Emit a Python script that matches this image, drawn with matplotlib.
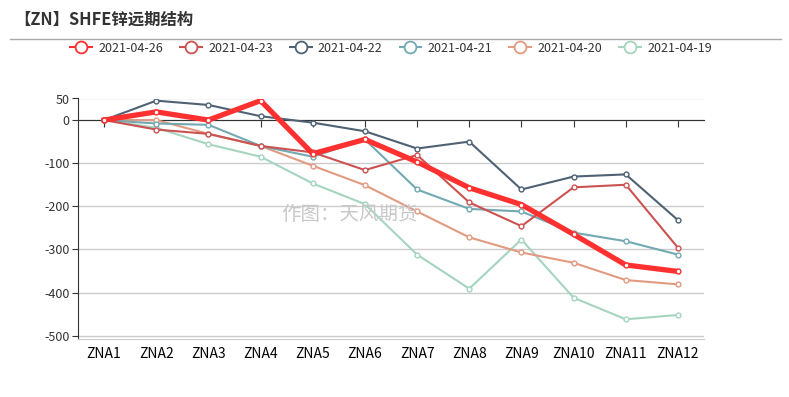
import matplotlib.pyplot as plt
from matplotlib.lines import Line2D

plt.rcParams['font.family'] = ['Microsoft YaHei', 'Noto Sans CJK SC', 'DejaVu Sans']

# contracts and spreads
contracts = ['ZNA1', 'ZNA2', 'ZNA3', 'ZNA4', 'ZNA5', 'ZNA6',
             'ZNA7', 'ZNA8', 'ZNA9', 'ZNA10', 'ZNA11', 'ZNA12']
dates = ['2021-04-26', '2021-04-23', '2021-04-22', '2021-04-21', '2021-04-20', '2021-04-19']
s0426 = [0, 19, 0, 45, -78, -45, -97, -157, -196, -265, -336, -351]
s0423 = [0, -22, -32, -60, -75, -116, -81, -191, -246, -156, -150, -296]
s0422 = [0, 45, 35, 9, -6, -26, -66, -50, -161, -131, -126, -232]
s0421 = [0, -8, -11, -60, -85, -45, -161, -206, -212, -261, -281, -312]
s0420 = [0, 0, -32, -60, -106, -151, -212, -272, -307, -331, -371, -381]
s0419 = [0, -18, -56, -85, -147, -195, -312, -391, -277, -412, -462, -452]
series = [s0426, s0423, s0422, s0421, s0420, s0419]
colors = ['#ff3030', '#cc5252', '#4f6273', '#72a9b2', '#e29a80', '#a5d4bf']
widths = [3.8, 1.5, 1.5, 1.5, 1.5, 1.5]
yticks = [50, 0, -100, -200, -300, -400, -500]

fig = plt.figure(figsize=(7.89, 3.97), dpi=100)
ax = fig.add_axes([78 / 789, 58.3 / 397, 626 / 789, 240.2 / 397])

x = list(range(len(contracts)))
for i in reversed(range(len(series))):
    ax.plot(x, series[i], color=colors[i], lw=widths[i], marker='o', ms=3.5,
            mfc='white', mec=colors[i], mew=1, zorder=3 + (len(series) - i))

ax.set_xlim(-0.5, len(contracts) - 0.5)
ax.set_ylim(-507, 50)
ax.set_xticks(x)
ax.set_xticklabels(contracts, fontsize=9, color='#333333')
ax.set_yticks(yticks)
ax.set_yticklabels([str(v) for v in yticks], fontsize=9, color='#333333')
ax.grid(axis='y', color='#cccccc', lw=1)
ax.set_axisbelow(True)

ax.spines['right'].set_visible(False)
ax.spines['top'].set_position(('data', 0))
ax.spines['top'].set_color('#333333')
ax.spines['left'].set_color('#333333')
ax.spines['bottom'].set_color('#cccccc')
ax.tick_params(axis='x', bottom=False, top=True, direction='in', length=5,
               color='#333333', labelbottom=True, labeltop=False, pad=6)
ax.tick_params(axis='y', length=4, color='#333333', pad=2)

fig.text(14 / 789, 1 - 20 / 397, '【ZN】SHFE锌远期结构', fontsize=11.8,
         fontweight='bold', color='#333333', va='center')
fig.add_artist(Line2D([10 / 789, 781 / 789], [1 - 38.5 / 397, 1 - 38.5 / 397],
                      color='#aaaaaa', lw=1))
fig.text(350 / 789, 1 - 214 / 397, '作图：天风期货', fontsize=14,
         color='#c8c8c8', ha='center', va='center')

handles = [Line2D([], [], color=c, lw=1.5, marker='o', ms=8.5, mfc='white',
                  mec=c, mew=1.3) for c in colors]
fig.legend(handles, dates, loc='center', bbox_to_anchor=(391 / 789, 1 - 48 / 397),
           ncol=6, frameon=False, fontsize=9, handlelength=1.75,
           handletextpad=0.5, columnspacing=1.35, labelcolor='#333333')

fig.savefig('out.png', dpi=100)
